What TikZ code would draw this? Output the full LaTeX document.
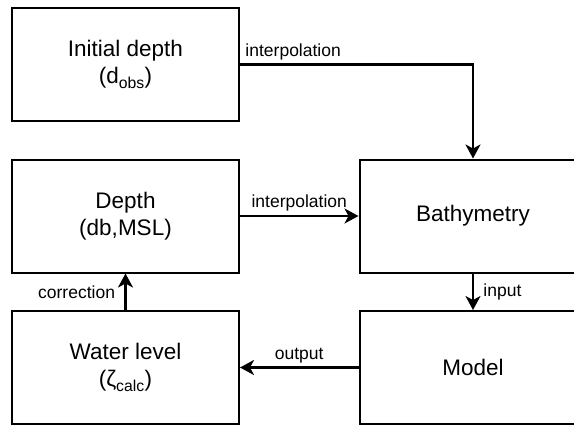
\documentclass[tikz,border=0pt]{standalone}
\usepackage{fontspec}
\setmainfont{Liberation Sans}
\usetikzlibrary{arrows.meta}

\tikzset{
    block/.style={draw, line width=2pt, minimum width=227pt, minimum height=113pt,
        align=center, font=\fontsize{22.5}{27}\selectfont},
    flowlabel/.style={font=\fontsize{17.5}{20}\selectfont},
}

\begin{document}
\begin{tikzpicture}[x=1pt, y=-1pt, line width=2.3pt, >={Stealth[length=14pt,width=15pt,inset=4pt]}]
    \useasboundingbox (0,0) rectangle (574,424);
    \clip (0,0) rectangle (574,424);

    \node[block](init) at (125.5, 64.5) {Initial depth\\(d\textsubscript{obs})};
    \node[block](depth) at (125.5, 216) {Depth\\(db,MSL)};
    \node[block](water) at (125.5, 367.5) {Water level\\(ζ\textsubscript{calc})};
    \node[block](bathy) at (473, 216) {Bathymetry};
    \node[block](model) at (473, 367.5) {Model};

    % \draw (init.east) -- (bathy.north);
    \draw[->] (init.east) -| node[flowlabel, pos=0, anchor=south west, xshift=1pt] {interpolation} (bathy.north);
    \path[->] (depth) edge node [flowlabel, above] {interpolation} (bathy);
    \path[->] (bathy) edge node [flowlabel, right, xshift=6pt] {input} (model);
    \path[->] (model) edge node [flowlabel, above] {output} (water);
    \path[->] (water) edge node [flowlabel, left, xshift=-6pt] {correction} (depth);
\end{tikzpicture}
\end{document}
